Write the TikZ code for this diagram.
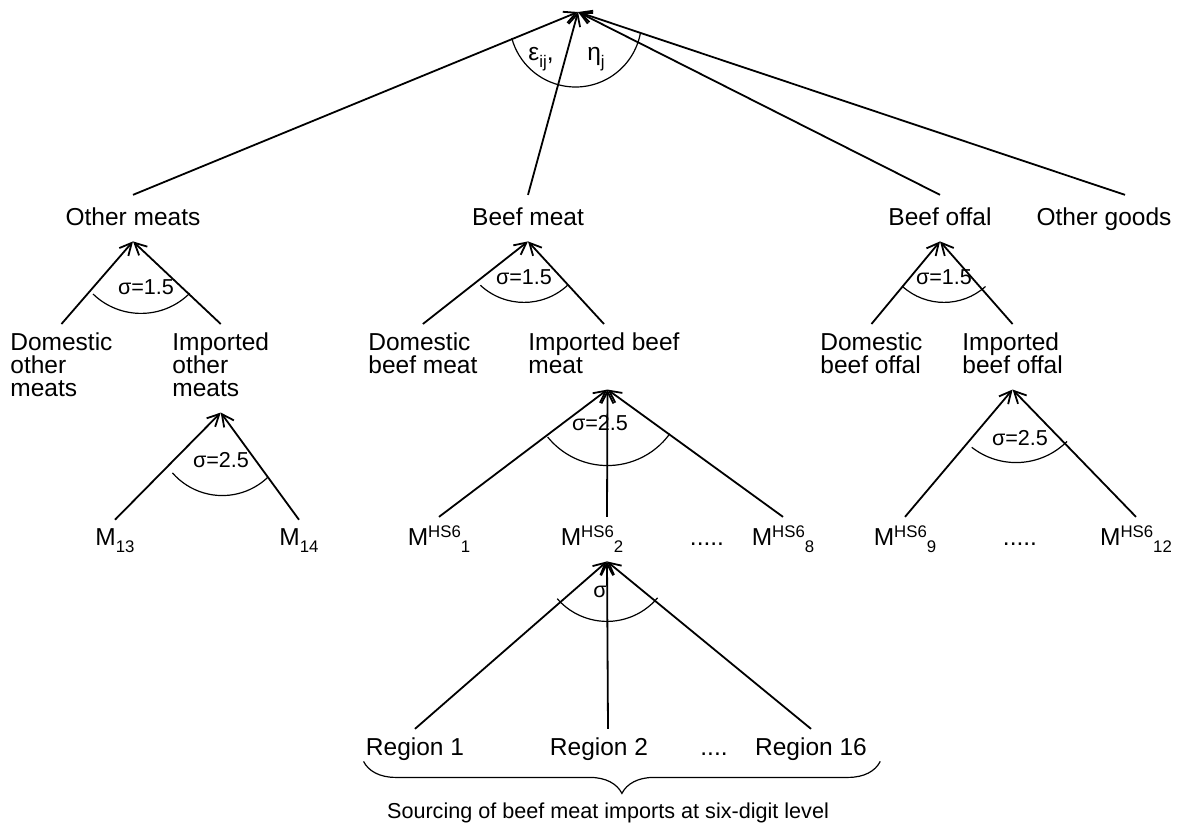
\documentclass[tikz,border=0pt]{standalone}
\usepackage{fontspec}
\setmainfont{Liberation Sans}
\usepackage{tikz}
\usetikzlibrary{arrows.meta, decorations.pathreplacing}
\newcommand{\hsup}[1]{\raisebox{4pt}{\fontsize{8.4}{9}\selectfont #1}}
\newcommand{\hsub}[1]{\raisebox{-3.5pt}{\fontsize{8.4}{9}\selectfont #1}}

\begin{document}
\begin{tikzpicture}[x=0.5pt, y=-0.5pt, >={Straight Barb[length=6pt,width=6pt]},
		cat/.style={inner xsep=0pt, inner ysep=6pt, text depth=2pt, anchor=base, font=\fontsize{12.25}{11.5}\selectfont},
		item/.style={inner xsep=0pt, inner ysep=4pt, text depth=4pt, anchor=north west, align=left, font=\fontsize{12.25}{11.5}\selectfont},
		leaf/.style={inner xsep=0pt, inner ysep=4pt, text depth=4pt, anchor=base, font=\fontsize{12.25}{11.5}\selectfont},
		sig/.style={inner sep=1pt, font=\fontsize{10.8}{12}\selectfont},
		link/.style={->, line width=0.9pt},
		elast/.style={line width=0.6pt}
		]
		\useasboundingbox (0,0) rectangle (1179,825);
		\coordinate (top) at (578,12);
		
		\node [cat](om) at (133,225) {Other meats};
		\node [cat](bm) at (528,225) {Beef meat};
		\node [cat](bo) at (940,225) {Beef offal};
		\node [cat](og) at (1104,225) {Other goods};
		
		\node [item](dom) at (10,324) {Domestic\\other\\meats};
		\node [item](imo) at (172,324) {Imported\\other\\meats};
		\node [item](dbm) at (368,324) {Domestic\\beef meat};
		\node [item](ibm) at (528,324) {Imported beef\\meat};
		\node [item](dbo) at (820,324) {Domestic\\beef offal};
		\node [item](ibo) at (962,324) {Imported\\beef offal};
		
		\node [leaf](m13) at (115,545) {M\hsub{13}};
		\node [leaf](m14) at (299,545) {M\hsub{14}};
		\node [leaf](m1) at (439,545) {M\hsup{HS6}\hsub{1}};
		\node [leaf](m2) at (592,545) {M\hsup{HS6}\hsub{2}};
		\node [leaf](d1) at (707,545) {.....};
		\node [leaf](m8) at (783,545) {M\hsup{HS6}\hsub{8}};
		\node [leaf](m9) at (905,545) {M\hsup{HS6}\hsub{9}};
		\node [leaf](d2) at (1020,545) {.....};
		\node [leaf](m12) at (1136,545) {M\hsup{HS6}\hsub{12}};
		
		\node [leaf](r1) at (415,755) {Region 1};
		\node [leaf](r2) at (599,755) {Region 2};
		\node [leaf](d3) at (714,755) {....};
		\node [leaf](r16) at (811,755) {Region 16};
		\node [sig, anchor=base](src) at (608,818) {Sourcing of beef meat imports at six-digit level};
		
		\node [leaf](eps) at (541,60) {ε\hsub{ij},};
		\node [leaf](eta) at (596,60) {η\hsub{j}};
		\node [sig](s1) at (146,287) {σ=1.5};
		\node [sig](s2) at (221,460) {σ=2.5};
		\node [sig](s3) at (524,277) {σ=1.5};
		\node [sig](s4) at (600,423) {σ=2.5};
		\node [sig](s5) at (600,592) {σ};
		\node [sig](s6) at (944,277) {σ=1.5};
		\node [sig](s7) at (1020,438) {σ=2.5};
		
		\draw[link] (om.north) -- (top);
		\draw[link] (bm.north) -- (top);
		\draw[link] (bo.north) -- (top);
		\draw[link] ([xshift=10.5pt]og.north) -- (top);
		
		\draw[link] (dom.north) -- (om.south);
		\draw[link] (imo.north) -- (om.south);
		\draw[link] (m13.north) -- (imo.south);
		\draw[link] (m14.north) -- (imo.south);
		
		\draw[link] (dbm.north) -- (bm.south);
		\draw[link] (ibm.north) -- (bm.south);
		\draw[link] (m1.north) -- ([xshift=1.75pt]ibm.south);
		\draw[link] ([xshift=7.5pt]m2.north) -- ([xshift=1.75pt]ibm.south);
		\draw[link] (m8.north) -- ([xshift=1.75pt]ibm.south);
		
		\draw[link] (r1.north) -- ([xshift=7.5pt]m2.south);
		\draw[link] ([xshift=4.5pt]r2.north) -- ([xshift=7.5pt]m2.south);
		\draw[link] (r16.north) -- ([xshift=7.5pt]m2.south);
		
		\draw[link] (dbo.north) -- (bo.south);
		\draw[link] (ibo.north) -- (bo.south);
		\draw[link] (m9.north) -- (ibo.south);
		\draw[link] (m12.north) -- (ibo.south);
		
		\draw[elast] ([shift={(-2.5,9)}]top) ++(10:66) arc[start angle=10, end angle=165, radius=66];
		\draw[elast] ([shift={(8,3)}]om.south) ++(45:69) arc[start angle=45, end angle=134, radius=69];
		\draw[elast] ([shift={(1.5,17)}]imo.south) ++(46:66) arc[start angle=46, end angle=139, radius=66];
		\draw[elast] ([shift={(-4,-3)}]bm.south) ++(47:64) arc[start angle=47, end angle=133, radius=64];
		\draw[elast] ([shift={(3.5,-1)}]ibm.south) ++(36:77) arc[start angle=36, end angle=141, radius=77];
		\draw[elast] ([shift={(15,-6)}]m2.south) ++(40:66) arc[start angle=40, end angle=139, radius=66];
		\draw[elast] ([shift={(4,-1)}]bo.south) ++(48:62) arc[start angle=48, end angle=132, radius=62];
		\draw[elast] ([shift={(3.5,1)}]ibo.south) ++(45:72) arc[start angle=45, end angle=128, radius=72];
		
		\draw[elast, decorate, decoration={brace, mirror, amplitude=16pt}] ([shift={(-2,-10)}]r1.south west) -- ([shift={(13,-10)}]r16.south east);
		
	\end{tikzpicture}
\end{document}
